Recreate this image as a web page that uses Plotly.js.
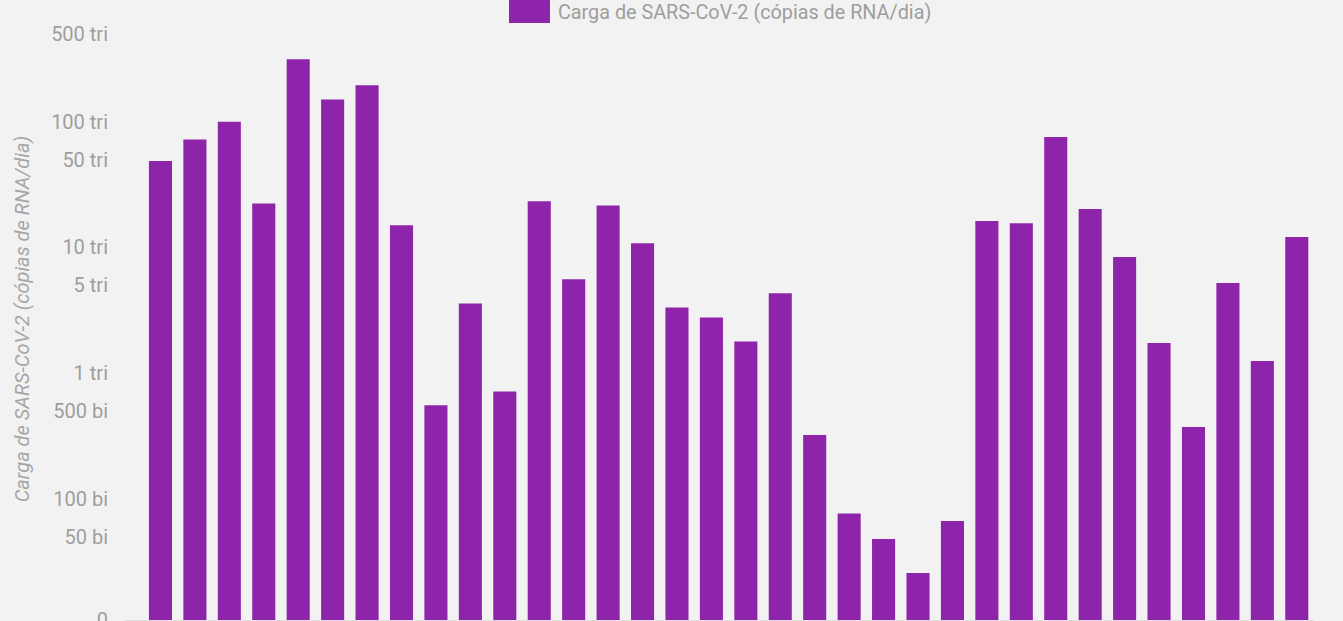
<!DOCTYPE html>
<html>
<head>
<meta charset="utf-8">
<script src="https://cdn.plot.ly/plotly-3.0.1.min.js"></script>
<style>
  html, body { margin: 0; padding: 0; background: #f2f2f2; overflow: hidden; }
  #chart { width: 1343px; height: 621px; }
</style>
</head>
<body>
<div id="chart"></div>
<script>
// Categories (x tick labels are outside the visible frame)
const categories = [
  "S01","S02","S03","S04","S05","S06","S07","S08","S09","S10",
  "S11","S12","S13","S14","S15","S16","S17","S18","S19","S20",
  "S21","S22","S23","S24","S25","S26","S27","S28","S29","S30",
  "S31","S32","S33","S34"
];

// SARS-CoV-2 load (RNA copies/day)
const carga = [
  48.6e12, 72.3e12, 100e12, 22.4e12, 314e12, 150e12, 195e12, 15.0e12,
  0.556e12, 3.59e12, 0.718e12, 23.3e12, 5.58e12, 21.6e12, 10.8e12, 3.34e12,
  2.78e12, 1.79e12, 4.32e12, 0.323e12, 76.9e9, 48.1e9, 25.8e9, 66.9e9,
  16.2e12, 15.6e12, 75.5e12, 20.2e12, 8.39e12, 1.74e12, 0.374e12, 5.21e12,
  1.25e12, 12.1e12
];

// Y tick values and labels
const yTickVals = [1.096e10, 5e10, 1e11, 5e11, 1e12, 5e12, 1e13, 5e13, 1e14, 5e14];
const yTickText = ["0", "50 bi", "100 bi", "500 bi", "1 tri", "5 tri", "10 tri", "50 tri", "100 tri", "500 tri"];

const seriesName = "Carga de SARS-CoV-2 (cópias de RNA/dia)";
const barColor = "#8e24aa";
const textGray = "#9e9e9e";

const trace = {
  type: "bar",
  x: categories,
  y: carga,
  name: seriesName,
  marker: { color: barColor, line: { width: 0 } },
  showlegend: true,
  hoverinfo: "y"
};

const layout = {
  width: 1343,
  height: 621,
  paper_bgcolor: "#f2f2f2",
  plot_bgcolor: "#f2f2f2",
  font: { family: "Roboto, 'Noto Sans', sans-serif", size: 20, color: textGray },
  margin: { l: 125, r: 29, t: 18, b: 1, pad: 0, autoexpand: false },
  bargap: 0.33,
  showlegend: true,
  legend: {
    orientation: "h",
    x: 0.3305,
    xanchor: "left",
    y: 1.0116,
    yanchor: "middle",
    bgcolor: "rgba(0,0,0,0)",
    font: { family: "Roboto, sans-serif", size: 19.8, color: textGray }
  },
  shapes: [{
    type: "rect",
    xref: "paper", yref: "paper",
    x0: 0.32296, x1: 0.35744,
    y0: 0.99169, y1: 1.0299,
    fillcolor: barColor,
    line: { width: 0 },
    layer: "above"
  }],
  xaxis: {
    type: "category",
    range: [-1.03, 33.5],
    showticklabels: false,
    showgrid: false,
    zeroline: false,
    showline: true,
    linecolor: "#e0e0e0",
    linewidth: 1,
    ticks: "",
    automargin: false,
    fixedrange: true
  },
  yaxis: {
    type: "log",
    range: [10.039, 14.824],
    tickmode: "array",
    tickvals: yTickVals,
    ticktext: yTickText,
    showgrid: false,
    zeroline: false,
    showline: false,
    ticks: "",
    ticklabelstandoff: 16,
    ticklabeloverflow: "allow",
    tickfont: { family: "Roboto, sans-serif", size: 20, color: textGray },
    automargin: false,
    title: {
      text: "<i>" + seriesName + "</i>",
      font: { family: "Roboto, sans-serif", size: 20, color: "#a6a6a6" },
      standoff: 16
    },
    fixedrange: true
  }
};

Plotly.newPlot("chart", [trace], layout, { displayModeBar: false, staticPlot: true });
</script>
</body>
</html>
